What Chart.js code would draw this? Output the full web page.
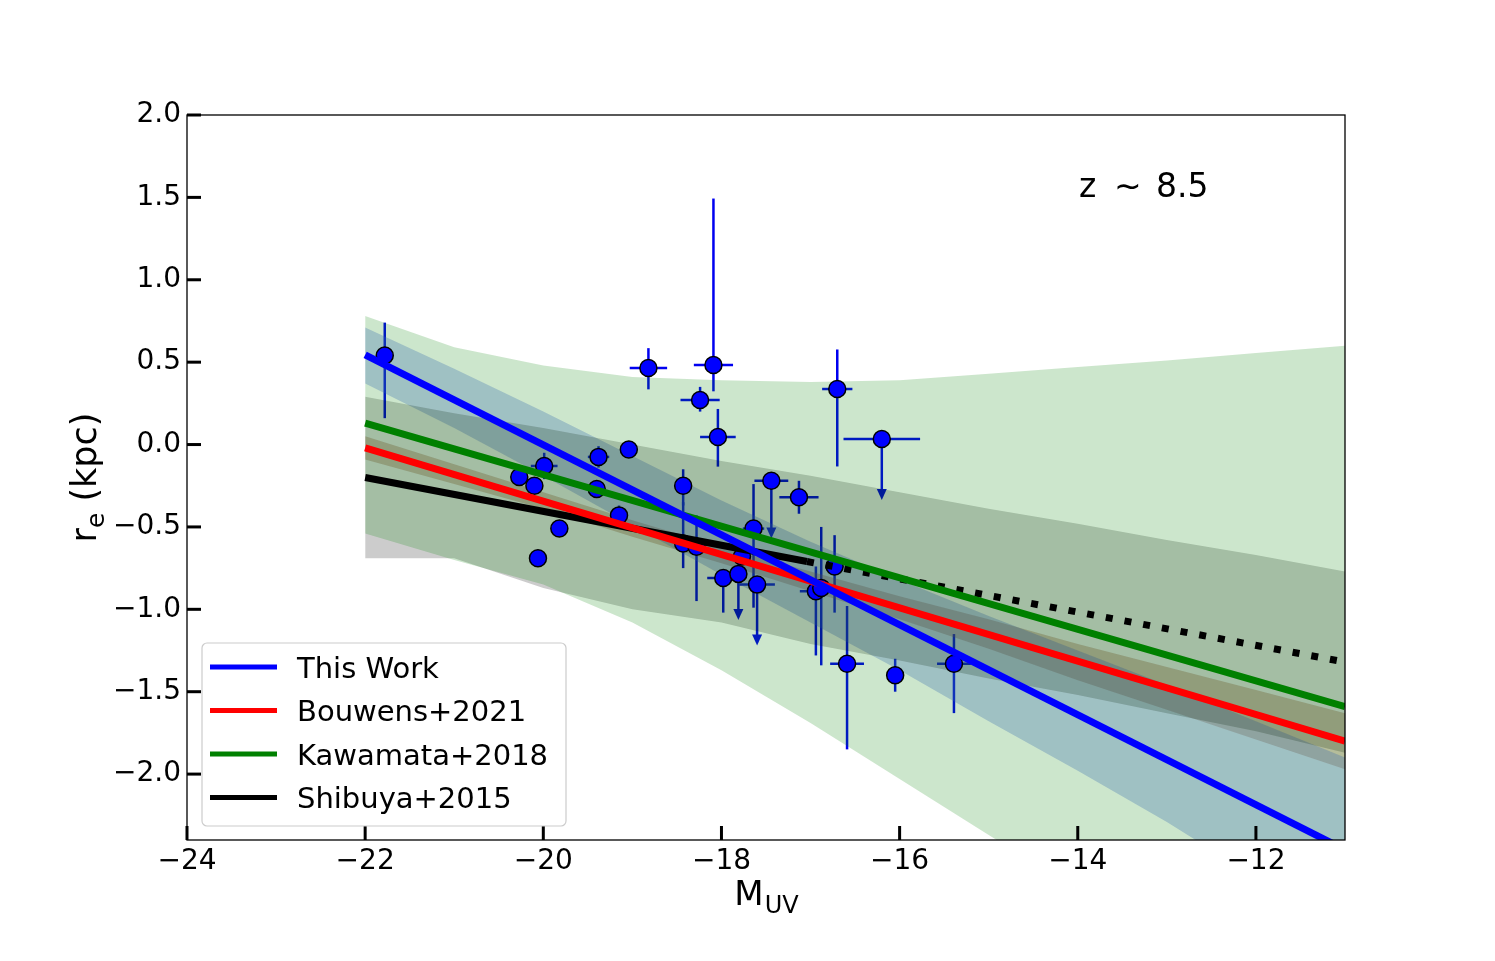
<!DOCTYPE html>
<html>
<head>
<meta charset="utf-8">
<script src="https://cdn.jsdelivr.net/npm/chart.js@4.4.1/dist/chart.umd.min.js"></script>
<style>
html, body { margin: 0; padding: 0; background: #fff; }
#wrap { width: 1495px; height: 961px; }
</style>
</head>
<body>
<div id="wrap"><canvas id="chart" width="1495" height="961"></canvas></div>
<script>
// galaxies: M_UV, r_e (log kpc) and errors
const muv = [-21.78, -18.82, -18.09, -18.24, -18.04, -16.70, -16.20, -19.04, -19.99, -19.38, -20.27, -20.10, -19.40, -19.82, -20.06, -19.15,
             -18.43, -18.43, -18.28, -17.64, -17.44, -17.13, -17.98, -17.77, -17.81, -17.60, -16.94, -16.88, -16.73, -16.59, -16.05, -15.39];
const re = [0.54, 0.465, 0.483, 0.27, 0.046, 0.337, 0.034, -0.03, -0.13, -0.075, -0.197, -0.25, -0.27, -0.51, -0.69, -0.43,
            -0.25, -0.60, -0.62, -0.51, -0.22, -0.32, -0.81, -0.68, -0.785, -0.85, -0.89, -0.87, -0.74, -1.33, -1.40, -1.33];
const muvErr = [0, 0.21, 0.22, 0.22, 0.20, 0.17, 0.43, 0, 0.15, 0.12, 0, 0, 0, 0, 0, 0,
                0, 0, 0, 0.12, 0.19, 0.22, 0.18, 0, 0, 0.20, 0.18, 0, 0.10, 0.19, 0, 0.19];
const reErrUp = [0.20, 0.12, 1.01, 0.08, 0.17, 0.24, 0, 0, 0.08, 0.065, 0, 0, 0, 0.03, 0, 0.06,
                 0.10, 0.25, 0.19, 0.27, 0, 0.10, 0.05, 0, 0, 0, 0.15, 0.37, 0.19, 0.35, 0.10, 0.18];
const reErrLow = [0.38, 0.13, 0.16, 0.07, 0.18, 0.47, 0.37, 0, 0.08, 0.065, 0, 0, 0, 0.03, 0, 0.02,
                  0.12, 0.15, 0.33, 0.48, 0.35, 0.10, 0.21, 0, 0.28, 0.37, 0.39, 0.47, 0.28, 0.52, 0.10, 0.30];
const upperLimit = [0, 0, 0, 0, 0, 0, 1, 0, 0, 0, 0, 0, 0, 0, 0, 0,
                    0, 0, 0, 0, 1, 0, 0, 0, 1, 1, 0, 0, 0, 0, 0, 0];

// fitted relations
const fitX = [-22, -11];
const thisWork = [0.544, -2.459];
const bouwens = [-0.02, -1.80];
const kawamata = [0.13, -1.59];
const shibuyaX = [-22, -17.04];
const shibuya = [-0.20, -0.71];
const shibuyaExtX = [-17.04, -11];
const shibuyaExt = [-0.71, -1.32];

// confidence bands
const bandX = [-22, -21, -20, -19, -18, -17, -16, -15, -14, -13, -12, -11];
const kawamataHi = [0.78, 0.59, 0.48, 0.41, 0.39, 0.38, 0.39, 0.43, 0.47, 0.51, 0.555, 0.60];
const kawamataLo = [-0.54, -0.70, -0.85, -1.08, -1.37, -1.69, -2.03, -2.37, -2.70, -3.00, -3.30, -3.60];
const shibuyaHi = [0.29, 0.19, 0.10, 0.0, -0.10, -0.19, -0.29, -0.39, -0.48, -0.58, -0.67, -0.77];
const shibuyaLo = [-0.69, -0.69, -0.87, -1.0, -1.08, -1.21, -1.31, -1.42, -1.52, -1.63, -1.74, -1.87];
const thisWorkHi = [0.71, 0.46, 0.20, -0.07, -0.34, -0.59, -0.82, -1.04, -1.25, -1.46, -1.68, -1.90];
const thisWorkLo = [0.37, 0.10, -0.19, -0.49, -0.79, -1.08, -1.37, -1.68, -1.98, -2.29, -2.63, -2.96];
const bouwensHi = [0.05, -0.12, -0.29, -0.46, -0.62, -0.77, -0.92, -1.06, -1.21, -1.35, -1.49, -1.63];
const bouwensLo = [-0.09, -0.24, -0.39, -0.56, -0.72, -0.89, -1.06, -1.24, -1.43, -1.61, -1.79, -1.97];

// axes
const xTicks = [-24, -22, -20, -18, -16, -14, -12];
const yTicks = [-2.0, -1.5, -1.0, -0.5, 0.0, 0.5, 1.0, 1.5, 2.0];

const legendNames = ['This Work', 'Bouwens+2021', 'Kawamata+2018', 'Shibuya+2015'];
const legendColors = ['#0000ff', '#ff0000', '#008000', '#000000'];

const FONT = "'DejaVu Sans', sans-serif";

function pts(xs, ys) {
    return xs.map((v, i) => ({ x: v, y: ys[i] }));
}
function minus(s) {
    return String(s).replace('-', '\u2212');
}

function band(hi, lo, color) {
    return [
        { type: 'line', data: pts(bandX, hi), borderWidth: 0, pointRadius: 0, fill: '+1', backgroundColor: color, order: 3, tension: 0 },
        { type: 'line', data: pts(bandX, lo), borderWidth: 0, pointRadius: 0, fill: false, order: 3, tension: 0 }
    ];
}
function fitLine(xs, ys, color, dash) {
    return { type: 'line', data: pts(xs, ys), borderColor: color, borderWidth: 7, pointRadius: 0,
             fill: false, order: 0, tension: 0, borderDash: dash || [], borderCapStyle: 'butt' };
}

// error bars, drawn under everything else
const errorBars = {
    id: 'errorBars',
    beforeDatasetsDraw(chart) {
        const { ctx, chartArea: a, scales: { x, y } } = chart;
        ctx.save();
        ctx.beginPath();
        ctx.rect(a.left, a.top, a.right - a.left, a.bottom - a.top);
        ctx.clip();
        ctx.strokeStyle = '#0000f0';
        ctx.fillStyle = '#0000f0';
        ctx.lineWidth = 2.5;
        muv.forEach((m, i) => {
            const px = x.getPixelForValue(m);
            const py = y.getPixelForValue(re[i]);
            if (muvErr[i] > 0) {
                ctx.beginPath();
                ctx.moveTo(x.getPixelForValue(m - muvErr[i]), py);
                ctx.lineTo(x.getPixelForValue(m + muvErr[i]), py);
                ctx.stroke();
            }
            if (upperLimit[i]) {
                const end = y.getPixelForValue(re[i] - reErrLow[i]);
                ctx.beginPath();
                ctx.moveTo(px, py);
                ctx.lineTo(px, end - 8);
                ctx.stroke();
                ctx.beginPath();
                ctx.moveTo(px - 5, end - 11);
                ctx.lineTo(px + 5, end - 11);
                ctx.lineTo(px, end);
                ctx.closePath();
                ctx.fill();
            } else if (reErrUp[i] > 0 || reErrLow[i] > 0) {
                ctx.beginPath();
                ctx.moveTo(px, y.getPixelForValue(re[i] + reErrUp[i]));
                ctx.lineTo(px, y.getPixelForValue(re[i] - reErrLow[i]));
                ctx.stroke();
            }
        });
        ctx.restore();
    }
};

// box, inward ticks, titles, annotation and legend
const decorations = {
    id: 'decorations',
    afterDraw(chart) {
        const { ctx, chartArea: a, scales: { x, y } } = chart;
        ctx.save();
        ctx.strokeStyle = '#000';
        ctx.lineWidth = 1.3;
        ctx.strokeRect(a.left, a.top, a.right - a.left, a.bottom - a.top);
        ctx.lineWidth = 3;
        xTicks.forEach(v => {
            const px = x.getPixelForValue(v);
            ctx.beginPath();
            ctx.moveTo(px, a.bottom);
            ctx.lineTo(px, a.bottom - 14);
            ctx.stroke();
        });
        yTicks.forEach(v => {
            const py = y.getPixelForValue(v);
            ctx.beginPath();
            ctx.moveTo(a.left, py);
            ctx.lineTo(a.left + 14, py);
            ctx.stroke();
        });

        ctx.fillStyle = '#000';
        ctx.textBaseline = 'alphabetic';
        ctx.textAlign = 'left';

        // x title: M_UV
        const cx = (a.left + a.right) / 2;
        ctx.font = '34px ' + FONT;
        const wM = ctx.measureText('M').width;
        ctx.font = '24px ' + FONT;
        const wUV = ctx.measureText('UV').width;
        const x0 = cx - (wM + wUV) / 2;
        ctx.font = '34px ' + FONT;
        ctx.fillText('M', x0, 905);
        ctx.font = '24px ' + FONT;
        ctx.fillText('UV', x0 + wM + 1, 913);

        // y title: r_e (kpc)
        ctx.save();
        ctx.translate(96, (a.top + a.bottom) / 2);
        ctx.rotate(-Math.PI / 2);
        ctx.font = '35px ' + FONT;
        const wr = ctx.measureText('r').width;
        const wk = ctx.measureText(' (kpc)').width;
        ctx.font = '25px ' + FONT;
        const we = ctx.measureText('e').width;
        let sx = -(wr + we + wk) / 2;
        ctx.font = '35px ' + FONT;
        ctx.fillText('r', sx, 0);
        ctx.font = '25px ' + FONT;
        ctx.fillText('e', sx + wr, 8);
        ctx.font = '35px ' + FONT;
        ctx.fillText(' (kpc)', sx + wr + we, 0);
        ctx.restore();

        // redshift label
        ctx.font = '33px ' + FONT;
        ctx.fillText('z', 1079, 197);
        ctx.fillText('\u223C', 1114, 197);
        ctx.fillText('8.5', 1156, 197);

        // legend
        const lx = 202, ly = 643, lw = 364, lh = 183;
        ctx.beginPath();
        ctx.roundRect(lx, ly, lw, lh, 5);
        ctx.fillStyle = 'rgba(255,255,255,0.8)';
        ctx.fill();
        ctx.strokeStyle = '#cccccc';
        ctx.lineWidth = 1.2;
        ctx.stroke();
        ctx.font = '29px ' + FONT;
        legendNames.forEach((name, i) => {
            const rowY = 667 + i * 43.5;
            ctx.strokeStyle = legendColors[i];
            ctx.lineWidth = 5;
            ctx.beginPath();
            ctx.moveTo(210, rowY);
            ctx.lineTo(277, rowY);
            ctx.stroke();
            ctx.fillStyle = '#000';
            ctx.fillText(name, 297, rowY + 10.5);
        });
        ctx.restore();
    }
};

const datasets = [
    ...band(kawamataHi, kawamataLo, 'rgba(0,128,0,0.2)'),
    ...band(shibuyaHi, shibuyaLo, 'rgba(0,0,0,0.2)'),
    ...band(thisWorkHi, thisWorkLo, 'rgba(70,100,220,0.3)'),
    ...band(bouwensHi, bouwensLo, 'rgba(160,82,45,0.3)'),
    {
        type: 'scatter',
        data: pts(muv, re),
        pointRadius: 8.5,
        pointBackgroundColor: '#0000ff',
        pointBorderColor: '#000000',
        pointBorderWidth: 1.5,
        order: 1
    },
    fitLine(fitX, thisWork, '#0000ff'),
    fitLine(fitX, bouwens, '#ff0000'),
    fitLine(fitX, kawamata, '#008000'),
    fitLine(shibuyaX, shibuya, '#000000'),
    fitLine(shibuyaExtX, shibuyaExt, '#000000', [7, 12])
];

new Chart(document.getElementById('chart'), {
    type: 'scatter',
    data: { datasets: datasets },
    options: {
        responsive: false,
        animation: false,
        events: [],
        layout: { padding: { top: 115, right: 150, left: 0, bottom: 0 } },
        plugins: {
            legend: { display: false },
            tooltip: { enabled: false }
        },
        scales: {
            x: {
                type: 'linear',
                min: -24,
                max: -11,
                grid: { display: false, drawTicks: false },
                border: { display: false },
                afterFit(s) { s.height = 121; },
                afterBuildTicks(s) { s.ticks = xTicks.map(v => ({ value: v })); },
                ticks: {
                    autoSkip: false,
                    maxRotation: 0,
                    padding: 5,
                    color: '#000',
                    font: { family: FONT, size: 28 },
                    callback: v => minus(v)
                }
            },
            y: {
                type: 'linear',
                min: -2.4,
                max: 2.0,
                grid: { display: false, drawTicks: false },
                border: { display: false },
                afterFit(s) { s.width = 187; },
                afterBuildTicks(s) { s.ticks = yTicks.map(v => ({ value: v })); },
                ticks: {
                    autoSkip: false,
                    padding: 6,
                    color: '#000',
                    font: { family: FONT, size: 28 },
                    callback: v => minus(Number(v).toFixed(1))
                }
            }
        }
    },
    plugins: [errorBars, decorations]
});
</script>
</body>
</html>
